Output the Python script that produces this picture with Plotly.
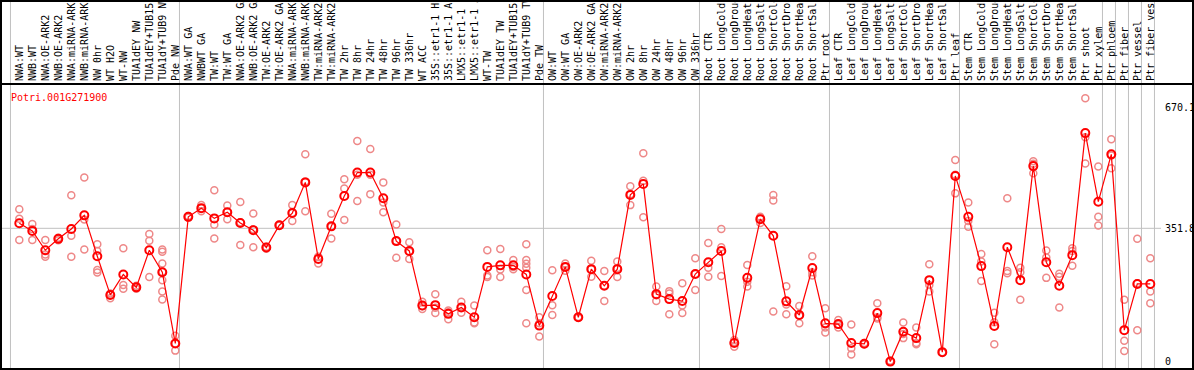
import plotly.graph_objects as go

gene_name = "Potri.001G271900"

group_labels = [
    ["NWA:WT", "NWB:WT", "NWA:OE-ARK2", "NWB:OE-ARK2", "NWA:miRNA-ARK2", "NWB:miRNA-ARK2",
     "NW 0hr", "WT H2O", "WT-NW", "TUA1dEY NW", "TUA1dEY+TUB15 NW", "TUA1dY+TUB9 NW", "Pde NW"],
    ["NWA:WT GA", "NWBWT GA", "TW:WT", "TW:WT GA", "NWA:OE-ARK2 GA", "NWB:OE-ARK2 GA",
     "TW:OE-ARK2", "TW:OE-ARK2 GA", "NWA:miRNA-ARK2 GA", "NWB:miRNA-ARK2 GA", "TW:miRNA-ARK2",
     "TW:miRNA-ARK2 GA", "TW 2hr", "TW 8hr", "TW 24hr", "TW 48hr", "TW 96hr", "TW 336hr",
     "WT ACC", "35S::etr1-1 H2O", "35S::etr1-1 ACC", "LMX5::etr1-1 H2O", "LMX5::etr1-1 ACC",
     "WT-TW", "TUA1dEY TW", "TUA1dEY+TUB15 TW", "TUA1dY+TUB9 TW", "Pde TW"],
    ["OW:WT", "OW:WT GA", "OW:OE-ARK2", "OW:OE-ARK2 GA", "OW:miRNA-ARK2", "OW:miRNA-ARK2 GA",
     "OW 2hr", "OW 8hr", "OW 24hr", "OW 48hr", "OW 96hr", "OW 336hr"],
    ["Root CTR", "Root LongCold", "Root LongDrought", "Root LongHeat", "Root LongSalt",
     "Root ShortCold", "Root ShortDrought", "Root ShortHeat", "Root ShortSalt", "Ptr root"],
    ["Leaf CTR", "Leaf LongCold", "Leaf LongDrought", "Leaf LongHeat", "Leaf LongSalt",
     "Leaf ShortCold", "Leaf ShortDrought", "Leaf ShortHeat", "Leaf ShortSalt", "Ptr leaf"],
    ["Stem CTR", "Stem LongCold", "Stem LongDrought", "Stem LongHeat", "Stem LongSalt",
     "Stem ShortCold", "Stem ShortDrought", "Stem ShortHeat", "Stem ShortSalt", "Ptr shoot",
     "Ptr xylem"],
    ["Ptr phloem"],
    ["Ptr fiber"],
    ["Ptr vessel"],
    ["Ptr fiber vessel"],
]

mean_values = [
    365, 345, 294, 324, 350, 386, 278, 176, 230, 196, 294, 236, 48,
    382, 405, 378, 394, 366, 347, 301, 360, 392, 473, 271, 357, 437, 499, 499, 431, 318, 292,
    148, 149, 126, 143, 117, 250, 254, 254, 230, 95, 173, 250, 117, 244,
    200, 244, 440, 469, 178, 165, 160, 231, 262, 292,
    49, 221, 376, 332, 159, 123, 247, 101, 99, 49, 47, 128, 0,
    79, 62, 215, 25, 490, 382, 252, 94, 302, 215,
    516, 262, 200, 281, 603, 422, 547, 83, 205, 205,
]

replicates = [
    [402, 377, 321], [363, 350, 321], [321, 283, 277], [320, 324, 327], [439, 332, 277],
    [486, 375, 296], [310, 292, 242, 235], [180, 176, 167], [299, 202, 192], [200, 196, 192],
    [337, 319, 223], [296, 290, 259, 237, 215, 185, 164], [68, 48, 29],
    [380, 382, 384], [413, 405, 397], [452, 361, 325], [412, 395, 376], [421, 368, 308],
    [391, 349, 302], [303, 300, 298], [359, 360, 361], [413, 392, 371], [547, 475, 397],
    [277, 276, 259], [390, 356, 325], [481, 457, 374], [582, 493, 424], [561, 493, 442],
    [473, 420, 394], [362, 318, 274], [315, 290, 271], [158, 146, 139], [178, 142, 128],
    [135, 130, 112], [158, 143, 129], [148, 103, 101], [294, 227, 223], [297, 243, 223],
    [268, 250, 244], [310, 268, 258, 248, 189, 101], [117, 101, 66], [241, 149, 123],
    [259, 250, 240], [118, 117, 116], [266, 244, 224],
    [239, 200, 160], [264, 247, 223], [463, 442, 413], [550, 477, 381], [198, 175, 160],
    [186, 180, 125], [207, 148, 128], [273, 231, 189], [313, 248, 224], [350, 302, 226],
    [57, 51, 39], [255, 211, 198], [382, 378, 366], [440, 425, 132], [199, 151, 125],
    [147, 121, 101], [278, 236, 227], [141, 90, 77], [110, 98, 90], [98, 35, 19],
    [49, 47, 46], [154, 117, 114], [2, 0, 0],
    [103, 73, 62], [90, 49, 46], [257, 202, 185], [25, 24, 24], [532, 493, 444],
    [420, 371, 356], [284, 264, 213], [129, 104, 46], [431, 239, 233], [248, 236, 163],
    [529, 522, 497], [293, 275, 221], [232, 224, 143], [299, 292, 253], [695, 592, 523],
    [515, 382, 359], [587, 544, 510], [163, 55, 28], [324, 207, 83], [273, 185, 154],
]

y_tick_vals = [0, 351.8, 670.1]
y_tick_text = ["0", "351.8", "670.1"]

# ---- build ----
labels = [lab for g in group_labels for lab in g]
x_idx = list(range(len(labels)))

rep_x, rep_y = [], []
for i, reps in enumerate(replicates):
    for v in reps:
        rep_x.append(i)
        rep_y.append(v)

MONO = "DejaVu Sans Mono"
W, H = 1194, 370
ML, MR, MT, MB = 1, 1, 85, 1
plot_w = W - ML - MR
plot_h = H - MT - MB
x0_px, px_per_cat = 19.3, 13.0
x_range = [(ML - x0_px) / px_per_cat, (ML + plot_w - x0_px) / px_per_cat]
y_range = [-19.5, 730.0]
top_paper = 1 + (MT - 1) / plot_h

fig = go.Figure()
fig.add_trace(go.Scatter(
    x=rep_x, y=rep_y, mode="markers",
    marker=dict(symbol="circle-open", size=7, color="#ee8888", line=dict(width=1.5, color="#ee8888")),
    hoverinfo="skip", showlegend=False,
))
fig.add_trace(go.Scatter(
    x=x_idx, y=mean_values, mode="lines+markers",
    line=dict(color="#ff0000", width=1.2),
    marker=dict(symbol="circle-open", size=8, color="#ff0000", line=dict(width=2, color="#ff0000")),
    showlegend=False,
))

shapes = []
# group separators
start = 0
bounds = [0]
for g in group_labels:
    start += len(g)
    bounds.append(start)
for b in bounds:
    shapes.append(dict(type="line", xref="x", yref="paper", x0=b - 0.68, x1=b - 0.68,
                       y0=0, y1=top_paper, line=dict(color="#c0c0c0", width=1), layer="below"))
# horizontal grid line at middle tick
label_left_px = 1163
shapes.append(dict(type="line", xref="paper", yref="y", x0=0, x1=(label_left_px - 2 - ML) / plot_w,
                   y0=y_tick_vals[1], y1=y_tick_vals[1], line=dict(color="#c0c0c0", width=1), layer="below"))
# outer frame (including label area)
shapes.append(dict(type="rect", xref="paper", yref="paper", x0=0, x1=1, y0=0, y1=top_paper,
                   line=dict(color="black", width=2)))

annotations = [dict(text=gene_name, xref="paper", yref="paper", x=(9.3 - ML) / plot_w,
                    y=1 - (97.3 - MT) / plot_h, xanchor="left", yanchor="middle", showarrow=False,
                    font=dict(family=MONO, size=10, color="#ff0000"))]
for v, t in zip(y_tick_vals, y_tick_text):
    annotations.append(dict(text=t, xref="paper", yref="y", x=(label_left_px - ML) / plot_w, y=v,
                            xanchor="left", yanchor="middle", showarrow=False,
                            font=dict(family=MONO, size=10, color="black")))

fig.update_layout(
    template="none",
    width=W, height=H,
    margin=dict(l=ML, r=MR, t=MT, b=MB, pad=0),
    paper_bgcolor="white", plot_bgcolor="white",
    shapes=shapes, annotations=annotations,
    xaxis=dict(range=x_range, side="top", tickmode="array", tickvals=x_idx, ticktext=labels,
               tickangle=-90, tickfont=dict(family=MONO, size=10, color="black"),
               showgrid=False, zeroline=False, ticks="", automargin=False,
               showline=True, linecolor="black", linewidth=2, mirror=True),
    yaxis=dict(range=y_range, showticklabels=False, showgrid=False, zeroline=False, ticks="",
               automargin=False, showline=True, linecolor="black", linewidth=2, mirror=True),
)

fig.write_html(
    "out.html",
    config={"displayModeBar": False},
    post_script="document.body.style.margin='0';document.body.style.overflow='hidden';",
)
